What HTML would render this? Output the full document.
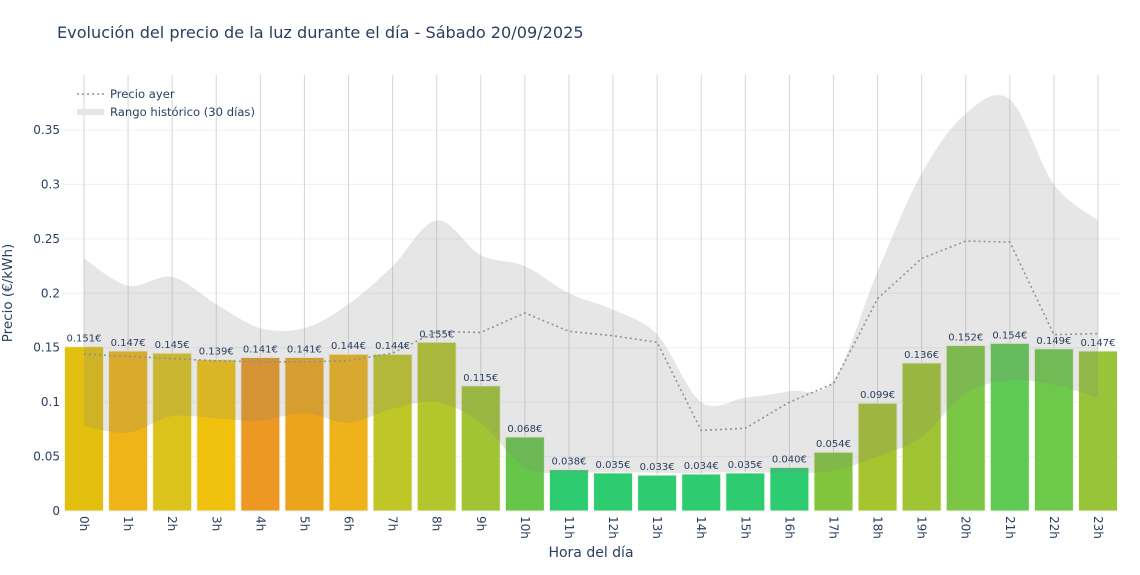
<!DOCTYPE html>
<html><head><meta charset="utf-8"><style>
body{margin:0;background:#fff;}
svg text{font-family:"DejaVu Sans","Liberation Sans",sans-serif;fill:#2a3f5f;}
</style></head><body>
<svg id="s" width="1140" height="570" xmlns="http://www.w3.org/2000/svg"></svg>
<script>
const s=document.getElementById('s');
const X=i=>84+i*44.087, Y=v=>511-v*1088.6;
let h='';
h+='<text x="57" y="38" font-size="16.1">Evolución del precio de la luz durante el día - Sábado 20/09/2025</text>';
[0.05,0.1,0.15,0.2,0.25,0.3,0.35].forEach(v=>{h+=`<line x1="62" x2="1120" y1="${Y(v)}" y2="${Y(v)}" stroke="#eef0f5" stroke-width="1"/>`;});
[0,0.05,0.1,0.15,0.2,0.25,0.3,0.35].forEach(v=>{h+=`<text x="60" y="${Y(v)+4}" font-size="12" text-anchor="end">${v===0?'0':String(v)}</text>`;});
for(let i=0;i<24;i++)h+=`<line x1="${X(i)}" x2="${X(i)}" y1="75" y2="511" stroke="#d6d6d6" stroke-width="1"/>`;
const vals=[0.151,0.147,0.145,0.139,0.141,0.141,0.144,0.144,0.155,0.115,0.068,0.038,0.035,0.033,0.034,0.035,0.040,0.054,0.099,0.136,0.152,0.154,0.149,0.147];
const cols=['#e3c010','#f0b418','#dcc31c','#f0c20e','#ec9822','#eba41c','#efb21a','#c0c528','#b3c62b','#a0c434','#66c64a','#2ecc71','#2ecc71','#2ecc71','#2ecc71','#2ecc71','#2ecc71','#82c53c','#a6c430','#9fc433','#7cc645','#5ec954','#6ec94b','#98c43a'];
vals.forEach((v,i)=>{h+=`<rect x="${X(i)-19.5}" y="${Y(v)}" width="39" height="${511-Y(v)}" fill="${cols[i]}" stroke="#f4f4e8" stroke-width="1"/>`;});
const up=[0.232,0.207,0.215,0.19,0.168,0.168,0.19,0.225,0.267,0.235,0.225,0.2,0.185,0.162,0.1,0.104,0.11,0.12,0.22,0.31,0.365,0.378,0.3,0.267];
const lo=[0.078,0.072,0.087,0.085,0.083,0.09,0.081,0.094,0.1,0.081,0.04,0.035,0.036,0.035,0.035,0.036,0.035,0.037,0.05,0.068,0.108,0.12,0.116,0.104];
function spline(pts,move){let d=move?`M${pts[0][0]},${pts[0][1]}`:`L${pts[0][0]},${pts[0][1]}`;
for(let i=0;i<pts.length-1;i++){const p0=pts[i-1]||pts[i],p1=pts[i],p2=pts[i+1],p3=pts[i+2]||p2;const t=6;
d+=`C${p1[0]+(p2[0]-p0[0])/t},${p1[1]+(p2[1]-p0[1])/t} ${p2[0]-(p3[0]-p1[0])/t},${p2[1]-(p3[1]-p1[1])/t} ${p2[0]},${p2[1]}`;}return d;}
const U=up.map((v,i)=>[X(i),Y(v)]), L=lo.map((v,i)=>[X(i),Y(v)]).reverse();
h+=`<path d="${spline(U,true)}${spline(L,false)}Z" fill="rgba(128,128,128,0.2)"/>`;
const prev=[0.144,0.142,0.14,0.138,0.137,0.137,0.138,0.145,0.165,0.164,0.182,0.165,0.161,0.155,0.074,0.076,0.1,0.117,0.195,0.232,0.248,0.247,0.162,0.163];
h+=`<polyline points="${prev.map((v,i)=>X(i)+','+Y(v)).join(' ')}" fill="none" stroke="#8a949e" stroke-width="1.6" stroke-dasharray="2,3"/>`;
vals.forEach((v,i)=>{h+=`<text x="${X(i)}" y="${Y(v)-5}" font-size="10" text-anchor="middle">${v.toFixed(3)}€</text>`;});
for(let i=0;i<24;i++)h+=`<text transform="translate(${X(i)-4},516) rotate(90)" font-size="12">${i}h</text>`;
h+='<text x="591" y="557" font-size="14" text-anchor="middle">Hora del día</text>';
h+='<text transform="translate(12,293) rotate(-90)" font-size="13.5" text-anchor="middle">Precio (€/kWh)</text>';
h+='<line x1="77" x2="104" y1="94" y2="94" stroke="#8a949e" stroke-width="1.6" stroke-dasharray="2,3"/>';
h+='<text x="110" y="98" font-size="11.6">Precio ayer</text>';
h+='<rect x="77" y="109" width="27" height="6" fill="#e5e5e5"/>';
h+='<text x="110" y="116" font-size="11.6">Rango histórico (30 días)</text>';
s.innerHTML=h;
</script>
</body></html>
